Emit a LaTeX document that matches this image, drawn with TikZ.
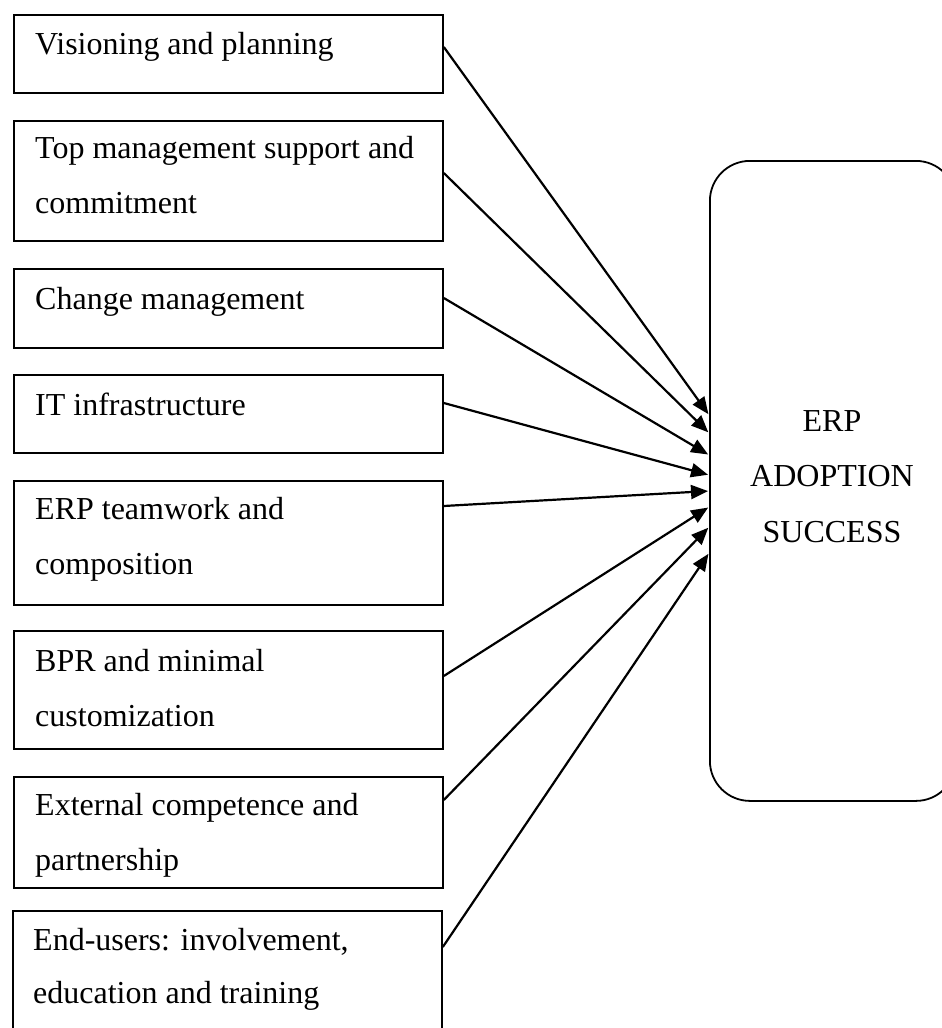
\documentclass[tikz,border=0pt]{standalone}
\usepackage{fontspec}
\setmainfont{Liberation Serif}
\usetikzlibrary{arrows.meta}
\begin{document}
\begin{tikzpicture}[x=1pt,y=-1pt,
  factor/.style={draw=black, line width=1.8pt, rectangle, inner sep=0pt, anchor=north west, minimum width=429pt},
  outcome/.style={draw=black, line width=1.8pt, rectangle, rounded corners=40pt, inner sep=0pt, anchor=north west, minimum width=246pt, minimum height=640pt},
  txt/.style={inner sep=0pt, anchor=base west, font=\fontsize{32}{55}\selectfont},
  ctxt/.style={inner sep=0pt, anchor=base, font=\fontsize{32}{55}\selectfont},
  conn/.style={line width=2.2pt, -{Triangle[length=17pt,width=14pt]}, shorten >=1pt}
]
\useasboundingbox (0,0) rectangle (942,1028);

% factor boxes
\node[factor, minimum height=78pt]  (b1) at (13,14)  {};
\node[factor, minimum height=120pt] (b2) at (13,120) {};
\node[factor, minimum height=79pt]  (b3) at (13,268) {};
\node[factor, minimum height=78pt]  (b4) at (13,374) {};
\node[factor, minimum height=124pt] (b5) at (13,480) {};
\node[factor, minimum height=118pt] (b6) at (13,630) {};
\node[factor, minimum height=111pt] (b7) at (13,776) {};
\node[factor, minimum height=140pt] (b8) at (12,910) {};

% factor labels
\node[txt] (t1)  at (35,54)   {Visioning and planning};
\node[txt] (t2a) at (35,158)  {Top management support and};
\node[txt] (t2b) at (35,213)  {commitment};
\node[txt] (t3)  at (35,309)  {Change management};
\node[txt] (t4)  at (35,415)  {IT infrastructure};
\node[txt] (t5a) at (35,519)  {ERP teamwork and};
\node[txt] (t5b) at (35,574)  {composition};
\node[txt] (t6a) at (35,671)  {BPR and minimal};
\node[txt] (t6b) at (35,726)  {customization};
\node[txt] (t7a) at (35,815)  {External competence and};
\node[txt] (t7b) at (35,870)  {partnership};
\node[txt] (t8a) at (33,950)  {End-users: involvement,};
\node[txt] (t8b) at (33,1003) {education and training};

% outcome box
\node[outcome] (erp) at (709,160) {};
\node[ctxt] (e1) at (832,431) {ERP};
\node[ctxt] (e2) at (832,486) {ADOPTION};
\node[ctxt] (e3) at (832,542) {SUCCESS};

% connectors
\draw[conn] ([yshift=-33pt]b1.north east) -- ([yshift=-255pt]erp.north west);
\draw[conn] ([yshift=-53pt]b2.north east) -- ([yshift=-273pt]erp.north west);
\draw[conn] ([yshift=-30pt]b3.north east) -- ([yshift=-295pt]erp.north west);
\draw[conn] ([yshift=-29pt]b4.north east) -- ([yshift=-315pt]erp.north west);
\draw[conn] ([yshift=-26pt]b5.north east) -- ([yshift=-331pt]erp.north west);
\draw[conn] ([yshift=-46pt]b6.north east) -- ([yshift=-347pt]erp.north west);
\draw[conn] ([yshift=-24pt]b7.north east) -- ([yshift=-367pt]erp.north west);
\draw[conn] ([yshift=-37pt]b8.north east) -- ([yshift=-393pt]erp.north west);
\end{tikzpicture}
\end{document}
